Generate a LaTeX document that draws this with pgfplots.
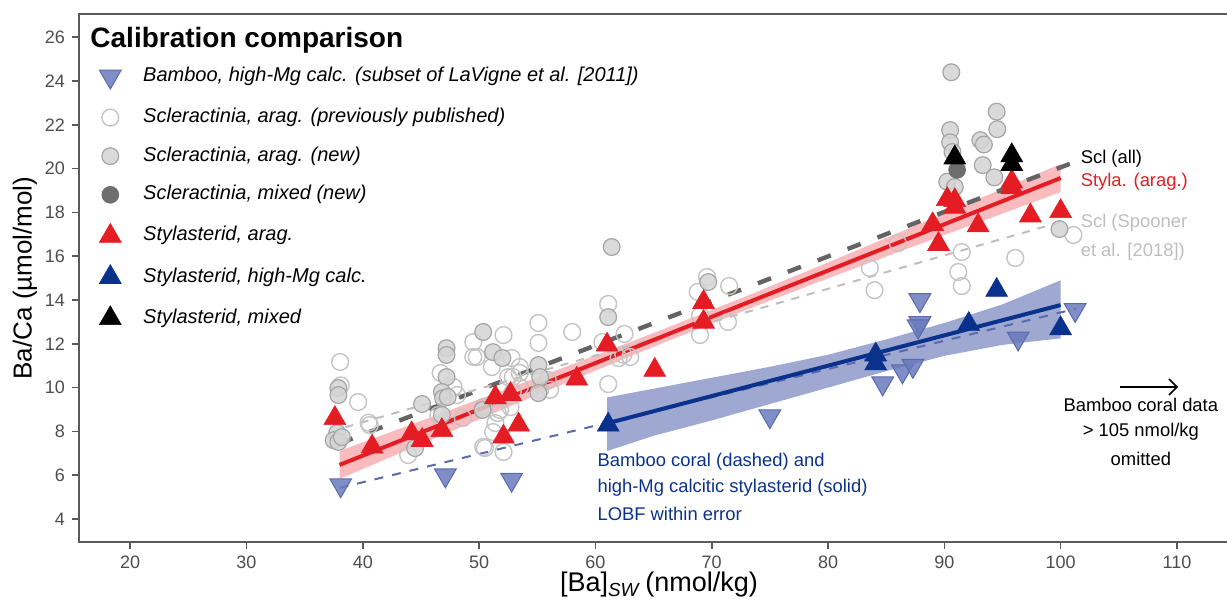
\documentclass[border=0pt]{standalone}
\usepackage{fontspec}
\setmainfont{Liberation Sans}
\usepackage{pgfplots}
\pgfplotsset{compat=1.18}
\usetikzlibrary{arrows.meta}
\definecolor{stred}{RGB}{228,28,35}
\definecolor{stblue}{RGB}{10,50,140}
\definecolor{bamboo}{RGB}{105,122,188}
\definecolor{bambooedge}{RGB}{90,106,172}
\definecolor{openedge}{RGB}{196,196,196}
\definecolor{newfill}{RGB}{212,212,212}
\definecolor{newedge}{RGB}{165,165,165}
\definecolor{mixfill}{RGB}{110,110,110}
\definecolor{bandred}{RGB}{248,170,172}
\definecolor{bandblue}{RGB}{158,168,208}
\definecolor{sclall}{RGB}{100,100,100}
\definecolor{spooner}{RGB}{190,190,190}
\definecolor{framegray}{RGB}{90,90,90}
\definecolor{ticklab}{RGB}{77,77,77}
\pgfplotsset{
  bamboomark/.style={only marks, mark=triangle*, mark size=6.3pt, mark options={rotate=180, fill=bamboo, draw=bambooedge, fill opacity=0.85, line width=0.5pt}},
  prevmark/.style={only marks, mark=*, mark size=4.2pt, mark options={fill=white, fill opacity=0, draw=openedge, line width=0.7pt}},
  newmark/.style={only marks, mark=*, mark size=4.2pt, mark options={fill=newfill, draw=newedge, fill opacity=0.85, line width=0.6pt}},
  mixmark/.style={only marks, mark=*, mark size=4.2pt, mark options={fill=mixfill, draw=mixfill}},
  redmark/.style={only marks, mark=triangle*, mark size=6.3pt, mark options={fill=stred, draw=stred, line width=0.3pt}},
  bluemark/.style={only marks, mark=triangle*, mark size=6.3pt, mark options={fill=stblue, draw=stblue, line width=0.3pt}},
  blackmark/.style={only marks, mark=triangle*, mark size=6.3pt, mark options={fill=black, draw=black, line width=0.3pt}},
}
\begin{document}
\begin{tikzpicture}
\begin{axis}[
  name=ax,
  scale only axis,
  width=576pt, height=264pt,
  xmin=15.6, xmax=114.65, ymin=2.95, ymax=27.06,
  clip=false,
  xtick={20,30,...,110}, ytick={4,6,...,26},
  tick pos=left,
  tick align=outside,
  major tick length=3.5pt,
  axis line style={draw=framegray, line width=0.8pt},
  major tick style={draw=framegray, line width=0.8pt},
  /pgf/number format/assume math mode=true,
  tick label style={font=\fontsize{9}{10}\selectfont, color=ticklab},
  xlabel={[Ba]\textsubscript{\textit{SW}}\,(nmol/kg)},
  ylabel={Ba/Ca (µmol/mol)},
  xlabel style={font=\fontsize{13.5}{15}\selectfont, inner sep=0pt, at={(axis description cs:0.5,0)}, anchor=center, yshift=-21.5pt, xshift=2pt},
  ylabel style={font=\fontsize{13}{15}\selectfont, at={(axis description cs:0,0.5)}, anchor=center, yshift=27pt},
  legend style={at={(axis description cs:0,1)}, anchor=north west, xshift=10pt, yshift=-26pt,
    draw=none, fill=none, inner sep=0pt, row sep=9.3pt,
    font=\fontsize{10}{12}\selectfont\itshape,
    nodes={inner xsep=11pt, inner ysep=0pt, text height=7.5pt, text depth=2.5pt}},
  legend cell align=left,
]
% legend images
\addlegendimage{bamboomark}
\addlegendentry{Bamboo, high-Mg calc. (subset of LaVigne et al. [2011])}
\addlegendimage{prevmark}
\addlegendentry{Scleractinia, arag. (previously published)}
\addlegendimage{newmark}
\addlegendentry{Scleractinia, arag. (new)}
\addlegendimage{mixmark}
\addlegendentry{Scleractinia, mixed (new)}
\addlegendimage{redmark}
\addlegendentry{Stylasterid, arag.}
\addlegendimage{bluemark}
\addlegendentry{Stylasterid, high-Mg calc.}
\addlegendimage{blackmark}
\addlegendentry{Stylasterid, mixed}

% Scleractinia previously published (open circles)
\addplot[prevmark, forget plot] table {
x y
38.05 11.17
38.1 10.1
39.6 9.34
40.5 8.4
40.6 8.29
46.7 10.67
47.8 10.03
48.1 9.66
46.5 8.75
48.6 8.61
43.9 6.92
49.5 12.08
49.5 11.4
50.35 7.29
52.1 12.4
49.8 11.4
52.8 11.35
51.1 10.94
53.5 10.94
53.5 10.67
52.5 10.48
52.9 10.48
53.5 10.03
55.25 9.9
55.9 10.35
56.1 9.9
50.35 9.11
51.6 8.84
51.8 8.98
52.7 9.11
51.4 8.38
51.2 7.97
50.5 7.24
52.1 7.06
52.9 9.8
55.1 12.95
55.1 12.04
58.0 12.54
62.5 12.45
60.6 12.08
62.4 11.5
61.1 13.82
61.1 10.16
62.0 11.35
63.0 11.4
69.6 15.05
68.8 14.37
71.5 14.64
71.4 13.0
69.0 13.3
69.0 12.4
86.0 16.6
83.6 15.46
84.0 14.45
91.5 16.19
91.2 15.28
91.5 14.64
96.1 15.92
101.1 16.97
};
% Scleractinia new (grey filled)
\addplot[newmark, forget plot] table {
x y
37.9 9.98
37.9 9.66
37.8 7.93
37.5 7.6
37.9 7.52
38.2 7.74
45.1 9.25
47.2 11.8
47.2 11.49
47.2 10.48
46.8 9.8
46.9 9.52
47.3 9.57
46.8 8.75
44.5 7.24
50.35 12.54
51.2 11.62
52.0 11.35
55.1 11.03
55.25 10.48
55.1 9.75
50.3 8.98
61.4 16.42
61.1 13.22
69.7 14.82
90.6 24.4
90.5 21.76
90.5 21.2
90.7 20.76
94.5 22.6
94.55 21.8
93.1 21.3
93.4 21.1
93.3 20.16
94.3 19.6
90.25 19.4
90.9 19.16
99.9 17.24
};
% Scleractinia mixed
\addplot[mixmark, forget plot] table {
x y
91.1 19.94
};
% confidence bands
\addplot[draw=none, fill=bandred, fill opacity=0.8, forget plot] table {
x y
38 5.83
45 7.42
52 9.00
59 10.56
66 12.08
73 13.56
80 14.99
87 16.38
94 17.75
100 18.93
100 20.21
94 18.85
87 17.28
80 15.71
73 14.18
66 12.70
59 11.26
52 9.86
45 8.48
38 7.11
} -- cycle;
\addplot[draw=none, fill=bandblue, forget plot] table {
x y
61 7.10
65 7.80
70 8.50
75 9.25
80 10.00
85 10.75
90 11.45
95 11.95
100 12.25
100 14.90
95 13.80
90 12.95
85 12.20
80 11.50
75 10.95
70 10.45
65 9.95
61 9.55
} -- cycle;
% regression lines
\addplot[sclall, line width=2.2pt, dash pattern=on 7pt off 9pt, forget plot] coordinates {(38,7.45) (101.3,20.32)};
\addplot[spooner, line width=1pt, dash pattern=on 4pt off 4pt, forget plot] coordinates {(38.5,8.19) (100.6,17.65)};
\addplot[bambooedge, line width=1pt, dash pattern=on 4.5pt off 4.5pt, forget plot] coordinates {(38,5.42) (101.3,13.6)};
\addplot[stred, line width=2pt, forget plot] coordinates {(38,6.47) (100,19.57)};
\addplot[stblue, line width=2pt, forget plot] coordinates {(61.1,8.38) (100,13.77)};
% bamboo (down triangles)
\addplot[bamboomark, forget plot] table {
x y
38.1 5.55
47.1 6.0
52.8 5.8
75.0 8.7
84.7 10.2
86.4 10.75
87.3 11.0
87.9 14.0
87.9 12.95
87.75 12.8
96.35 12.25
101.25 13.55
};
% Stylasterid arag
\addplot[redmark, forget plot] table {
x y
37.6 8.6
40.8 7.3
44.2 7.9
45.1 7.6
46.8 8.05
51.4 9.55
52.7 9.7
52.1 7.75
53.4 8.3
58.4 10.4
61.0 11.95
65.1 10.8
69.3 13.9
69.3 13.0
90.25 18.6
90.9 18.55
90.9 18.25
89.0 17.45
89.5 16.55
92.9 17.4
95.8 19.4
95.8 19.15
97.4 17.85
100.0 18.05
};
% Stylasterid high-Mg calc
\addplot[bluemark, forget plot] table {
x y
61.1 8.3
84.1 11.5
84.1 11.1
92.1 12.9
94.5 14.45
100.0 12.7
};
% Stylasterid mixed
\addplot[blackmark, forget plot] table {
x y
90.9 20.5
95.8 20.6
95.8 20.2
};
% annotations
\node[anchor=base west, inner sep=0pt, font=\fontsize{14}{16}\selectfont\bfseries] at (rel axis cs:0.0096,0.9366) {Calibration comparison};
\node[anchor=west, inner sep=0pt, font=\fontsize{9.2}{11}\selectfont, text=black] at (axis cs:101.7,20.45) {Scl (all)};
\node[anchor=west, inner sep=0pt, font=\fontsize{9.2}{11}\selectfont, text=stred] at (axis cs:101.7,19.4) {Styla. (arag.)};
\node[anchor=west, inner sep=0pt, font=\fontsize{9.2}{11}\selectfont, text=spooner] at (axis cs:101.7,17.55) {Scl (Spooner};
\node[anchor=west, inner sep=0pt, font=\fontsize{9.2}{11}\selectfont, text=spooner] at (axis cs:101.7,16.2) {et al. [2018])};
\node[anchor=west, inner sep=0pt, font=\fontsize{9.2}{11}\selectfont, text=stblue] at (axis cs:60.15,6.6) {Bamboo coral (dashed) and};
\node[anchor=west, inner sep=0pt, font=\fontsize{9.2}{11}\selectfont, text=stblue] at (axis cs:60.15,5.42) {high-Mg calcitic stylasterid (solid)};
\node[anchor=west, inner sep=0pt, font=\fontsize{9.2}{11}\selectfont, text=stblue] at (axis cs:60.15,4.23) {LOBF within error};
\draw[-{Straight Barb[length=4pt,width=8pt]}, line width=0.8pt] (axis cs:105.1,10.03) -- (axis cs:110.1,10.03);
\node[anchor=center, inner sep=0pt, font=\fontsize{9.2}{11}\selectfont] at (axis cs:106.9,9.2) {Bamboo coral data};
\node[anchor=center, inner sep=0pt, font=\fontsize{9.2}{11}\selectfont] at (axis cs:106.9,7.97) {> 105 nmol/kg};
\node[anchor=center, inner sep=0pt, font=\fontsize{9.2}{11}\selectfont] at (axis cs:106.9,6.74) {omitted};
\end{axis}
\pgfresetboundingbox
\path ([xshift=-39.5pt,yshift=-31pt]ax.south west) rectangle ([xshift=574pt,yshift=271pt]ax.south west);
\end{tikzpicture}
\end{document}
